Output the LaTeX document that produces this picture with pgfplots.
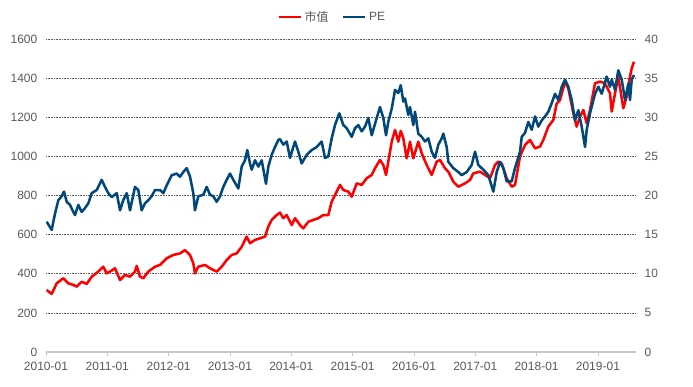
\documentclass[border=0pt]{standalone}
\usepackage{pgfplots}
\pgfplotsset{compat=1.18}
\usepackage{fontspec}
\setmainfont{Liberation Sans}
\newfontfamily\cjk{Noto Sans CJK SC}
\usetikzlibrary{calc}
\definecolor{redc}{RGB}{255,0,0}
\definecolor{bluec}{RGB}{0,72,122}
\definecolor{txt}{RGB}{89,89,89}
\definecolor{axc}{RGB}{200,200,200}
\definecolor{gridc}{RGB}{90,90,90}

\pgfplotstableread{
t v
2010.011 317
2010.093 297
2010.174 351
2010.282 377
2010.364 351
2010.445 343
2010.501 334
2010.582 359
2010.664 348
2010.745 385
2010.853 411
2010.934 436
2010.990 402
2011.071 416
2011.125 428
2011.207 368
2011.288 394
2011.370 385
2011.451 411
2011.479 440
2011.533 385
2011.587 377
2011.668 411
2011.777 436
2011.859 445
2011.968 479
2012.076 496
2012.185 504
2012.266 521
2012.348 496
2012.402 453
2012.429 402
2012.483 436
2012.593 445
2012.674 428
2012.783 411
2012.865 436
2012.946 470
2013.028 496
2013.109 504
2013.191 538
2013.272 590
2013.326 556
2013.408 573
2013.489 581
2013.571 590
2013.625 641
2013.680 675
2013.762 700
2013.815 713
2013.869 684
2013.925 700
2014.006 649
2014.060 684
2014.142 649
2014.195 632
2014.277 666
2014.358 675
2014.440 684
2014.521 700
2014.603 700
2014.658 768
2014.740 820
2014.794 854
2014.848 828
2014.929 820
2014.985 794
2015.066 862
2015.148 854
2015.229 888
2015.311 905
2015.364 939
2015.446 982
2015.500 956
2015.544 905
2015.581 973
2015.637 1075
2015.691 1135
2015.744 1075
2015.784 1130
2015.826 1093
2015.881 990
2015.935 1075
2015.989 990
2016.070 1075
2016.126 1016
2016.207 956
2016.289 905
2016.370 973
2016.424 982
2016.506 939
2016.560 922
2016.641 871
2016.723 845
2016.832 862
2016.913 879
2016.967 913
2017.077 922
2017.158 905
2017.240 888
2017.321 956
2017.375 973
2017.430 964
2017.512 888
2017.593 845
2017.647 854
2017.729 1000
2017.810 1058
2017.892 1084
2017.974 1041
2018.055 1050
2018.109 1084
2018.190 1152
2018.272 1186
2018.327 1271
2018.381 1288
2018.463 1382
2018.516 1348
2018.598 1220
2018.653 1152
2018.707 1203
2018.761 1237
2018.816 1169
2018.870 1237
2018.952 1374
2019.033 1382
2019.115 1374
2019.196 1322
2019.224 1229
2019.278 1322
2019.331 1408
2019.413 1246
2019.468 1305
2019.522 1408
2019.550 1450
2019.587 1484
}\mktable

\pgfplotstableread{
t v
2010.011 16.65
2010.093 15.6
2010.147 17.7
2010.201 19.4
2010.256 19.9
2010.293 20.5
2010.338 19.2
2010.391 18.8
2010.445 17.9
2010.473 17.5
2010.527 18.8
2010.582 17.9
2010.636 18.4
2010.690 19.0
2010.745 20.3
2010.827 20.7
2010.908 22.0
2010.962 21.1
2011.016 20.3
2011.071 19.8
2011.153 20.3
2011.207 18.1
2011.260 19.4
2011.316 20.3
2011.370 18.1
2011.451 21.1
2011.505 20.7
2011.560 18.1
2011.614 19.0
2011.668 19.4
2011.723 19.9
2011.777 20.7
2011.859 20.7
2011.913 20.3
2011.968 21.3
2012.050 22.6
2012.131 22.8
2012.185 22.4
2012.239 23.0
2012.294 23.5
2012.348 22.4
2012.402 20.3
2012.429 18.1
2012.483 19.9
2012.565 20.1
2012.620 21.1
2012.674 20.1
2012.728 19.9
2012.783 19.2
2012.837 19.9
2012.891 21.1
2012.946 22.0
2013.000 22.8
2013.054 22.0
2013.136 20.9
2013.191 23.7
2013.245 24.5
2013.282 25.8
2013.326 24.1
2013.354 23.3
2013.408 24.5
2013.462 23.7
2013.517 24.5
2013.587 21.5
2013.625 23.7
2013.680 25.2
2013.734 26.2
2013.788 27.1
2013.815 27.2
2013.869 26.5
2013.925 26.9
2013.978 24.8
2014.060 26.9
2014.114 25.6
2014.169 24.1
2014.251 25.2
2014.332 25.8
2014.414 26.2
2014.495 26.9
2014.549 24.8
2014.603 25.0
2014.658 27.3
2014.712 29.0
2014.782 30.5
2014.848 29.0
2014.903 28.6
2014.985 27.5
2015.038 28.6
2015.092 29.0
2015.148 28.2
2015.201 28.8
2015.255 29.9
2015.311 27.7
2015.392 29.9
2015.446 31.3
2015.500 29.9
2015.544 27.7
2015.581 29.4
2015.637 31.1
2015.691 33.5
2015.744 33.1
2015.784 34.1
2015.826 32.0
2015.854 32.4
2015.907 30.3
2015.935 31.3
2015.989 29.0
2016.017 30.7
2016.070 27.9
2016.126 27.5
2016.179 26.9
2016.234 27.3
2016.289 25.6
2016.343 24.8
2016.397 26.5
2016.452 27.3
2016.478 27.9
2016.533 26.2
2016.560 24.3
2016.641 23.5
2016.723 23.0
2016.778 22.6
2016.860 23.0
2016.941 23.9
2016.995 25.6
2017.049 23.9
2017.130 23.3
2017.212 22.6
2017.294 20.5
2017.349 23.0
2017.403 24.3
2017.457 23.5
2017.512 21.8
2017.593 21.8
2017.647 23.5
2017.729 25.6
2017.757 27.5
2017.810 28.0
2017.864 29.4
2017.920 28.4
2017.974 30.1
2018.027 28.8
2018.083 29.6
2018.136 30.1
2018.190 30.7
2018.246 31.8
2018.300 33.0
2018.354 32.2
2018.409 33.9
2018.463 34.8
2018.516 33.9
2018.572 32.2
2018.625 29.6
2018.679 30.9
2018.735 28.8
2018.789 26.2
2018.816 28.4
2018.870 30.5
2018.952 33.0
2019.006 33.9
2019.061 33.0
2019.142 35.2
2019.196 33.9
2019.224 34.8
2019.278 33.5
2019.331 36.0
2019.387 34.8
2019.441 32.2
2019.495 34.3
2019.522 32.2
2019.550 34.8
2019.587 35.4
}\petable

\begin{document}
\begin{tikzpicture}
\pgfplotsset{
  base/.style={
    scale only axis,
    width=442.5pt, height=234.75pt,
    xmin=2010, xmax=2019.62,
    tick label style={font=\fontsize{9}{10}\selectfont, text=txt},
    /pgf/number format/assume math mode=true,
    /pgf/number format/1000 sep={},
  }
}
\begin{axis}[base, name=ax,
  ymin=0, ymax=1600,
  ytick={0,200,...,1600},
  axis x line*=bottom,
  axis y line*=left,
  y axis line style={draw=none},
  x axis line style={draw=axc, line width=0.8pt, -},
  xtick={2010,...,2019},
  xticklabels={2010-01,2011-01,2012-01,2013-01,2014-01,2015-01,2016-01,2017-01,2018-01,2019-01},
  xtick style={draw=axc, line width=0.6pt},
  xtick align=outside,
  major tick length=3pt,
  ytick style={draw=none},
  yticklabel style={xshift=-3pt},
  xticklabel style={yshift=-1pt},
  ymajorgrids,
  grid style={draw=gridc, line width=0.5pt, dash pattern=on 0.6pt off 0.6pt},
]
\addplot[redc, line width=1.9pt, line join=round] table[x=t,y=v] {\mktable};
\end{axis}
\begin{axis}[base,
  ymin=0, ymax=40,
  ytick={0,5,...,40},
  axis y line*=right,
  axis x line=none,
  y axis line style={draw=none},
  ytick style={draw=none},
  yticklabel style={xshift=3pt},
  legend style={at={(0.4856,1.0703)}, anchor=center, draw=none, fill=none,
    legend columns=2, font=\fontsize{9}{10}\selectfont, text=txt,
    /tikz/every even column/.append style={column sep=8pt}},
  legend image code/.code={\draw[#1] (0pt,0pt) -- (16.5pt,0pt);},
]
\addlegendimage{redc, line width=1.9pt}
\addlegendentry{\cjk 市值}
\addplot[bluec, line width=1.9pt, line join=round] table[x=t,y=v] {\petable};
\addlegendentry{PE}
\end{axis}
\pgfresetboundingbox
\path[use as bounding box] ($(ax.south west)+(-34.5pt,-25.5pt)$) rectangle ($(ax.north east)+(42.75pt,29.25pt)$);
\end{tikzpicture}
\end{document}
